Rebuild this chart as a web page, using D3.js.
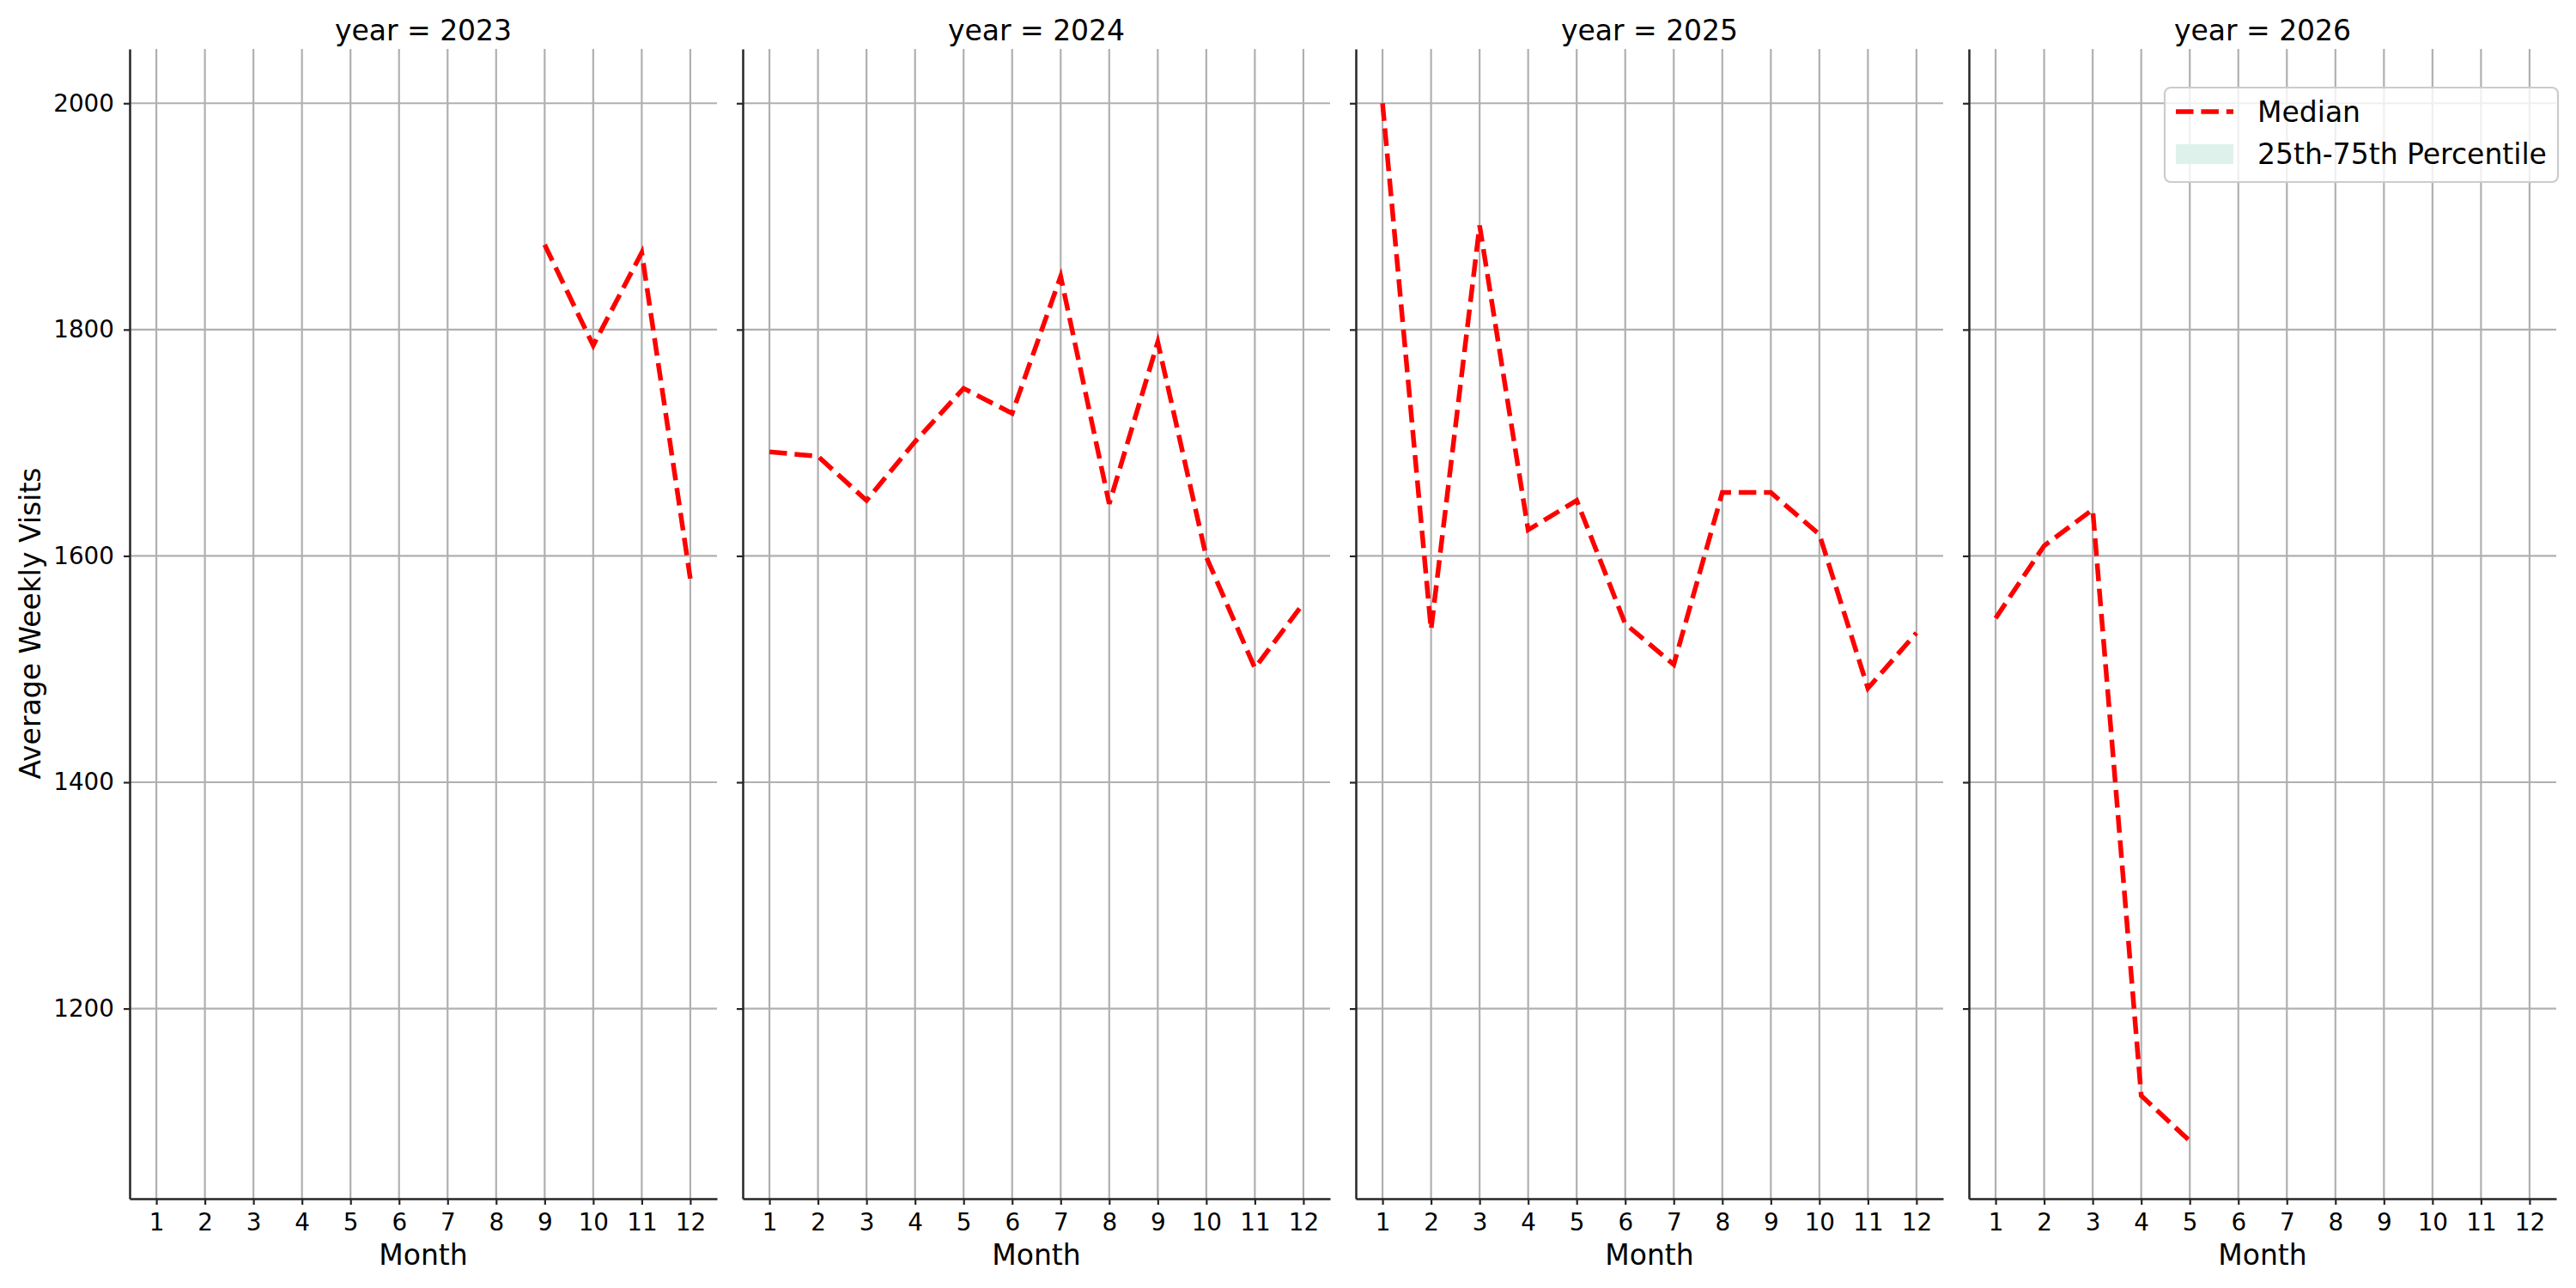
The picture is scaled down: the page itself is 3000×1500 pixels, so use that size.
<!DOCTYPE html>
<html>
<head>
<meta charset="utf-8">
<script src="https://cdn.jsdelivr.net/npm/d3@7"></script>
<style>
  body { margin: 0; background: #fff; }
  text { font-family: "DejaVu Sans", sans-serif; fill: #000; }
</style>
</head>
<body>
<svg width="3000" height="1500"></svg>
<script>
// values, one array per facet (null = no data)
const months = [1, 2, 3, 4, 5, 6, 7, 8, 9, 10, 11, 12];
const years = [2023, 2024, 2025, 2026];
const median2023 = [null, null, null, null, null, null, null, null, 1875, 1786, 1868, 1580];
const median2024 = [1692, 1688, 1649, 1701, 1748, 1726, 1847, 1646, 1789, 1599, 1501, 1558];
const median2025 = [2000, 1535, 1892, 1623, 1649, 1540, 1504, 1656, 1656, 1619, 1483, 1532];
const median2026 = [1545, 1609, 1641, 1123, 1083, null, null, null, null, null, null, null];
const yTicks = [1200, 1400, 1600, 1800, 2000];
const legendLabels = ["Median", "25th-75th Percentile"];

const medians = [median2023, median2024, median2025, median2026];

const svg = d3.select("svg");
svg.append("rect").attr("width", 3000).attr("height", 1500).attr("fill", "#fff");

const panelW = 684, panelGap = 30, left0 = 151;
const plotTop = 57, plotBottom = 1396;

const x = d3.scaleLinear().domain([0.45, 12.55]);
const y = d3.scaleLinear().domain([1032, 2048]).range([plotBottom, plotTop]);

const line = d3.line()
    .defined(d => d.v != null)
    .x(d => x(d.m))
    .y(d => y(d.v));

years.forEach((year, i) => {
    const x0 = left0 + i * (panelW + panelGap);
    x.range([x0, x0 + panelW]);

    const g = svg.append("g").attr("class", "panel");

    // grid
    g.selectAll(".vgrid")
        .data(months)
        .join("line")
        .attr("x1", d => x(d)).attr("x2", d => x(d))
        .attr("y1", plotTop).attr("y2", plotBottom)
        .attr("stroke", "#b0b0b0").attr("stroke-width", 2.2);
    g.selectAll(".hgrid")
        .data(yTicks)
        .join("line")
        .attr("x1", x0).attr("x2", x0 + panelW)
        .attr("y1", d => y(d)).attr("y2", d => y(d))
        .attr("stroke", "#b0b0b0").attr("stroke-width", 2.2);

    // median line
    const pts = months.map((m, j) => ({ m: m, v: medians[i][j] }));
    g.append("path")
        .datum(pts)
        .attr("d", line)
        .attr("fill", "none")
        .attr("stroke", "red")
        .attr("stroke-width", 5.5)
        .attr("stroke-dasharray", "20.5,8.9");

    // axes
    const xAxis = d3.axisBottom(x).tickValues(months).tickSize(7).tickSizeOuter(0).tickPadding(10);
    const yAxis = d3.axisLeft(y).tickValues(yTicks).tickSize(7).tickSizeOuter(0).tickPadding(11)
        .tickFormat(i > 0 ? "" : d3.format("d"));

    const gx = g.append("g").attr("transform", `translate(0,${plotBottom})`).call(xAxis);
    const gy = g.append("g").attr("transform", `translate(${x0},0)`).call(yAxis);
    [gx, gy].forEach(a => {
        a.select(".domain").attr("stroke", "#262626").attr("stroke-width", 2.5);
        a.selectAll(".tick line").attr("stroke", "#262626").attr("stroke-width", 2.2);
        a.selectAll(".tick text")
            .style("font-family", "DejaVu Sans")
            .style("font-size", "27.8px")
            .attr("fill", "#000");
    });

    // title and x label
    g.append("text")
        .attr("x", x0 + panelW / 2).attr("y", 47)
        .attr("text-anchor", "middle")
        .style("font-size", "33px")
        .text("year = " + year);
    g.append("text")
        .attr("x", x0 + panelW / 2).attr("y", 1473)
        .attr("text-anchor", "middle")
        .style("font-size", "33px")
        .text("Month");
});

// y label
svg.append("text")
    .attr("transform", "translate(47,726) rotate(-90)")
    .attr("text-anchor", "middle")
    .style("font-size", "33px")
    .text("Average Weekly Visits");

// legend (last facet, upper right)
const lg = svg.append("g").attr("class", "legend");
lg.append("rect")
    .attr("x", 2521).attr("y", 102).attr("width", 458).attr("height", 110)
    .attr("rx", 7)
    .attr("fill", "#fff").attr("fill-opacity", 0.8)
    .attr("stroke", "#cccccc").attr("stroke-width", 2.2);
lg.append("line")
    .attr("x1", 2534).attr("x2", 2601).attr("y1", 130).attr("y2", 130)
    .attr("stroke", "red").attr("stroke-width", 5.5)
    .attr("stroke-dasharray", "20.5,8.9");
lg.append("rect")
    .attr("x", 2534).attr("y", 168).attr("width", 67).attr("height", 23)
    .attr("fill", "#dff1eb");
lg.selectAll(".ltext")
    .data(legendLabels)
    .join("text")
    .attr("x", 2629)
    .attr("y", (d, i) => 142 + i * 49)
    .style("font-size", "33px")
    .text(d => d);
</script>
</body>
</html>
